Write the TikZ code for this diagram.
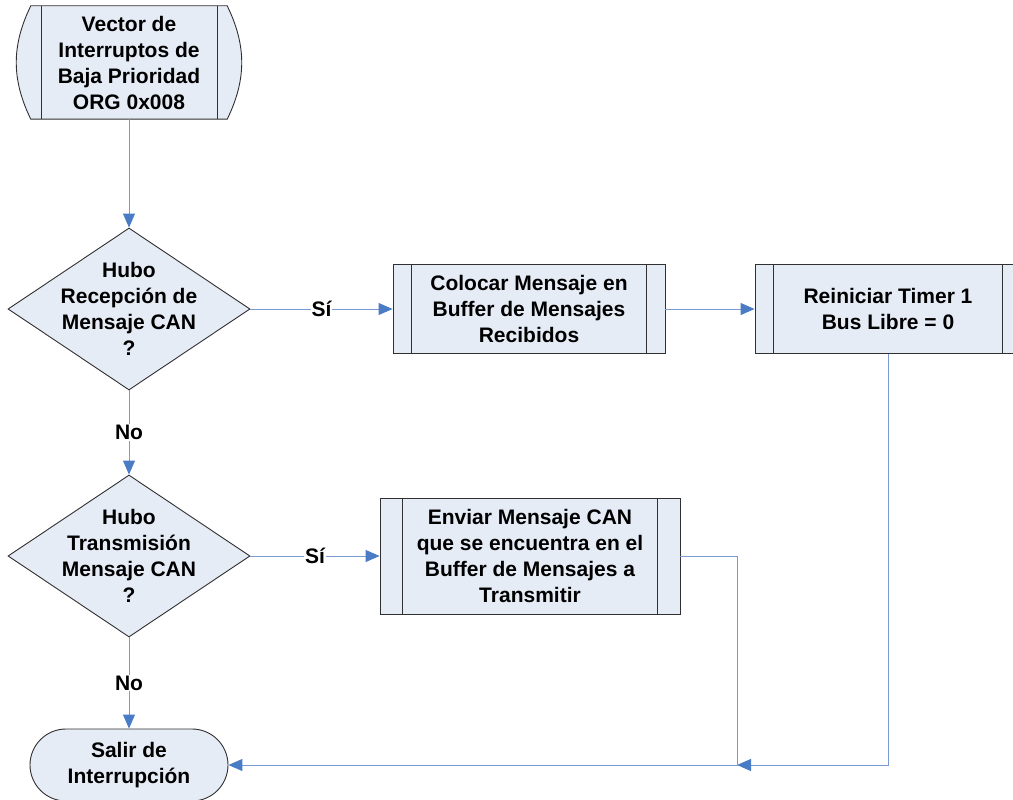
\documentclass[tikz,border=0pt]{standalone}
\usepackage{fontspec}
\setmainfont{Liberation Sans}
\usetikzlibrary{shapes.geometric,arrows.meta,backgrounds}
\definecolor{boxfill}{HTML}{E6ECF6}
\definecolor{linkblue}{HTML}{7A9BD2}
\definecolor{tipblue}{HTML}{4A7BC5}
\definecolor{edgegray}{HTML}{303030}
\tikzset{
  every node/.style={font=\fontsize{21}{26}\selectfont\bfseries, align=center},
  shapeline/.style={draw=edgegray, line width=0.9pt, fill=boxfill},
  proc/.style={shapeline, rectangle, inner sep=0pt},
  decision/.style={shapeline, diamond, minimum width=242pt, minimum height=162pt, inner sep=0pt},
  lbl/.style={fill=white, inner sep=1pt},
  conn/.style={draw=linkblue, line width=1pt},
  arr/.style={conn, -{Triangle[length=14pt,width=12pt,color=tipblue]}},
  bar/.style={draw=edgegray, line width=0.9pt}
}
% vertical side bars of a predefined-process box
\newcommand{\sidebars}[2]{%
  \draw[bar] ([xshift=#2]#1.north west) -- ([xshift=#2]#1.south west);
  \draw[bar] ([xshift=-#2]#1.north east) -- ([xshift=-#2]#1.south east);}
\begin{document}
\begin{tikzpicture}[x=1pt,y=-1pt]
\useasboundingbox (0,0) rectangle (1013,800);

% start terminal
\node[minimum width=196pt, minimum height=113pt, inner sep=0pt] (t0) at (129,62.5)
  {Vector de\\Interruptos de\\Baja Prioridad\\ORG 0x008};
\begin{scope}[on background layer]
  \draw[shapeline] (t0.north west) -- (t0.north east)
    to[bend left=26] (t0.south east) -- (t0.south west)
    to[bend left=26] (t0.north west) -- cycle;
\end{scope}
\draw[bar] ([xshift=11pt]t0.north west) -- ([xshift=11pt]t0.south west);
\draw[bar] ([xshift=-10pt]t0.north east) -- ([xshift=-10pt]t0.south east);

% decisions
\node[decision] (d1) at (129,309) {};
\node at (d1) {Hubo\\Recepción de\\Mensaje CAN\\?};
\node[decision] (d2) at (129,556) {};
\node at (d2) {Hubo\\Transmisión\\Mensaje CAN\\?};

% processes
\node[proc, minimum width=272pt, minimum height=89pt] (b1) at (529,309)
  {Colocar Mensaje en\\Buffer de Mensajes\\Recibidos};
\sidebars{b1}{19pt}
\node[proc, minimum width=266pt, minimum height=89pt] (b2) at (888,309)
  {Reiniciar Timer 1\\Bus Libre = 0};
\sidebars{b2}{19pt}
\node[proc, minimum width=300pt, minimum height=116pt] (b3) at (530,556)
  {Enviar Mensaje CAN\\que se encuentra en el\\Buffer de Mensajes a\\Transmitir};
\sidebars{b3}{23pt}

% end terminal
\node[shapeline, rounded corners=36pt, minimum width=198pt, minimum height=72pt, inner sep=0pt]
  (t1) at (129,765) {Salir de\\Interrupción};

% connectors
\coordinate (j) at (737,765);
\draw[arr] (t0.south) -- (d1.north);
\draw[arr] (d1.east) -- node[lbl] {Sí} (b1.west);
\draw[arr] (b1.east) -- (b2.west);
\draw[arr] (d1.south) -- node[lbl] {No} (d2.north);
\draw[arr] (d2.east) -- node[lbl] {Sí} (b3.west);
\draw[arr] (d2.south) -- node[lbl] {No} (t1.north);
\draw[arr] (b2.south) |- (j);
\draw[arr] (b3.east) -| (j) -- (t1.east);
\end{tikzpicture}
\end{document}
